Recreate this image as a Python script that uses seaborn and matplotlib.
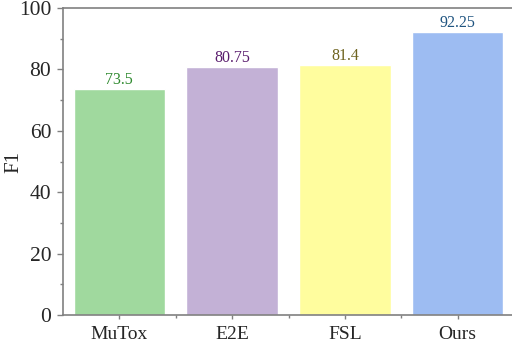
import matplotlib
matplotlib.use("Agg")
import matplotlib.pyplot as plt
import seaborn as sns
import pandas as pd
from matplotlib.ticker import MultipleLocator, FixedLocator

methods = ["MuTox", "E2E", "FSL", "Ours"]
f1_scores = [73.5, 80.75, 81.4, 92.25]
bar_colors = ["#a0d99e", "#c3b1d6", "#fffd9e", "#9dbcf2"]
label_colors = ["#2f8a2f", "#5a1d6e", "#6f6420", "#1f5480"]

df = pd.DataFrame({"method": methods, "F1": f1_scores})

sns.set_theme(style="white")
plt.rcParams["font.family"] = ["Liberation Serif", "DejaVu Serif"]

fig = plt.figure(figsize=(5.12, 3.47), dpi=100)
ax = fig.add_axes([63 / 512, 1 - 315 / 347, 451 / 512, 307 / 347])

sns.barplot(data=df, x="method", y="F1", hue="method", palette=bar_colors,
            width=0.81, legend=False, ax=ax, saturation=1)

for i, (v, c) in enumerate(zip(f1_scores, label_colors)):
    ax.text(i, v + 0.3, f"{v:g}", ha="center", va="bottom", color=c, fontsize=11.5)

ax.set_xlim(-0.5, 3.5)
ax.set_ylim(0, 100)
ax.yaxis.set_major_locator(MultipleLocator(20))
ax.yaxis.set_minor_locator(MultipleLocator(10))
ax.xaxis.set_minor_locator(FixedLocator([0.5, 1.5, 2.5]))
ax.set_xlabel("")
ax.set_ylabel("F1", fontsize=15)
ax.yaxis.set_label_coords(-0.088, 0.5)
ax.tick_params(axis="y", which="major", direction="out", length=4.5, width=1,
               color="#808080", labelsize=15.5, left=True, pad=4)
ax.tick_params(axis="y", which="minor", direction="out", length=2, width=1,
               color="#808080", left=True)
ax.tick_params(axis="x", which="major", direction="out", length=3, width=1,
               color="#808080", labelsize=14, bottom=True, pad=5)
ax.tick_params(axis="x", which="minor", direction="out", length=2, width=1,
               color="#808080", bottom=True)
for s in ["left", "bottom", "top"]:
    ax.spines[s].set_color("#808080")
    ax.spines[s].set_linewidth(1.2)
ax.spines["right"].set_visible(False)

fig.savefig("out.png", dpi=100)
